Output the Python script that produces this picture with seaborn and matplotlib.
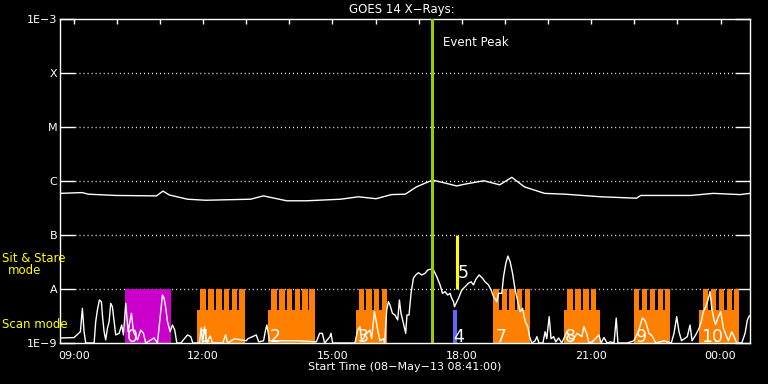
import matplotlib
matplotlib.use("Agg")
import matplotlib.pyplot as plt
from matplotlib.ticker import FixedLocator, FixedFormatter
import seaborn as sns
import pandas as pd

# ---------------- data (hours since 00:00 on 08-May-13; >24 = next day) ----------------
x_start = 8.683
x_end = 24.683

long_hours = [8.683, 9.195, 9.341, 9.968, 10.92, 11.07, 11.22, 11.64, 12.06, 13.10, 13.40,
              13.94, 14.40, 15.19, 15.60, 16.01, 16.37, 16.69, 16.95, 17.32, 17.58, 17.88,
              18.09, 18.51, 18.88, 19.16, 19.45, 19.92, 20.39, 21.23, 22.05, 22.15, 23.31,
              23.83, 24.45, 24.683]
long_flux = [5.9e-7, 6.1e-7, 5.7e-7, 5.4e-7, 5.3e-7, 6.5e-7, 5.5e-7, 4.6e-7, 4.4e-7, 4.6e-7, 5.3e-7,
             4.3e-7, 4.3e-7, 4.6e-7, 5.1e-7, 4.7e-7, 5.6e-7, 5.7e-7, 7.8e-7, 1.04e-6, 9.3e-7, 8.1e-7,
             8.8e-7, 1.01e-6, 8.5e-7, 1.17e-6, 7.8e-7, 5.9e-7, 5.7e-7, 5.1e-7, 4.8e-7, 5.4e-7, 5.4e-7,
             5.9e-7, 5.6e-7, 5.9e-7]

short_hours = [8.698, 9.009, 9.156, 9.202, 9.241, 9.279, 9.474, 9.511, 9.550, 9.597, 9.643, 9.673,
               9.706, 9.743, 9.782, 9.822, 9.859, 9.898, 9.938, 9.975, 10.054, 10.114, 10.154,
               10.207, 10.263, 10.339, 10.386, 10.479, 10.555, 10.618, 10.671, 10.866, 10.943,
               11.020, 11.059, 11.098, 11.136, 11.175, 11.238, 11.291, 11.344, 11.391, 11.484,
               11.639, 11.716, 11.762, 11.918, 11.957, 11.99, 12.034, 12.08, 12.166, 12.22,
               12.459, 12.521, 12.57, 12.730, 13.002, 13.039, 13.234, 13.29, 13.403, 13.45,
               13.480, 13.54, 13.814, 14.239, 14.627, 14.703, 14.766, 14.82, 14.942, 14.966,
               15.005, 15.523, 15.585, 15.639, 15.678, 15.794, 15.871, 15.91, 15.973, 16.003,
               16.050, 16.103, 16.182, 16.21, 16.259, 16.298, 16.335, 16.391, 16.451, 16.514,
               16.553, 16.590, 16.646, 16.699, 16.729, 16.776, 16.823, 16.878, 16.932, 16.994,
               17.071, 17.148, 17.210, 17.264, 17.343, 17.419, 17.496, 17.552, 17.612, 17.675,
               17.728, 17.767, 17.807, 17.830, 17.923, 17.999, 18.076, 18.155, 18.216, 18.271,
               18.325, 18.401, 18.480, 18.540, 18.619, 18.680, 18.736, 18.812, 18.851, 18.928,
               18.968, 19.021, 19.068, 19.121, 19.177, 19.237, 19.300, 19.353, 19.409, 19.469,
               19.532, 19.571, 19.624, 19.701, 19.741, 19.79, 19.88, 19.933, 19.97, 20.026,
               20.07, 20.128, 20.18, 20.244, 20.32, 20.437, 20.51, 20.592, 20.669, 20.785,
               20.83, 20.894, 20.95, 21.025, 21.180, 21.23, 21.296, 21.37, 21.451, 21.53,
               21.581, 21.62, 21.835, 21.992, 22.108, 22.185, 22.240, 22.287, 22.340, 22.417,
               22.496, 22.689, 22.858, 22.921, 22.983, 23.037, 23.095, 23.229, 23.292, 23.34,
               23.424, 23.501, 23.554, 23.601, 23.657, 23.710, 23.756, 23.796, 23.849, 23.884,
               23.949, 24.004, 24.065, 24.128, 24.181, 24.260, 24.313, 24.376, 24.492, 24.569,
               24.622, 24.668]
short_flux = [1.24e-9, 1.26e-9, 1.62e-9, 4.39e-9, 1.62e-9, 1.0e-9, 1.0e-9, 2.48e-9, 4.08e-9, 6.26e-9,
              5.8e-9, 2.87e-9, 1.62e-9, 1.14e-9, 1.87e-9, 2.48e-9, 5.43e-9, 4.7e-9, 2.48e-9, 1.41e-9,
              1.51e-9, 2.15e-9, 1.41e-9, 5.43e-9, 1.62e-9, 3.55e-9, 1.62e-9, 1.14e-9, 1.74e-9,
              1.51e-9, 1.0e-9, 1.24e-9, 1.0e-9, 3.8e-9, 7.74e-9, 6.73e-9, 4.39e-9, 2.48e-9,
              1.62e-9, 2.15e-9, 1.74e-9, 1.0e-9, 1.0e-9, 1.41e-9, 1.31e-9, 1.0e-9, 1.0e-9, 1.9e-9,
              1.0e-9, 2.0e-9, 1.0e-9, 1.35e-9, 1.0e-9, 1.0e-9, 1.41e-9, 1.0e-9, 1.2e-9, 1.1e-9,
              1.2e-9, 1.41e-9, 1.05e-9, 1.1e-9, 1.74e-9, 2.15e-9, 1.1e-9, 1.1e-9, 1.1e-9, 1.05e-9,
              1.51e-9, 1.51e-9, 1.0e-9, 1.31e-9, 1.51e-9, 1.0e-9, 1.0e-9, 1.74e-9, 2.0e-9, 1.1e-9,
              1.51e-9, 1.74e-9, 1.2e-9, 3.8e-9, 2.87e-9, 1.74e-9, 1.1e-9, 1.2e-9, 1.0e-9, 4.08e-9,
              5.82e-9, 5.06e-9, 3.55e-9, 3.3e-9, 2.67e-9, 6.26e-9, 3.55e-9, 2.32e-9, 1.51e-9,
              3.3e-9, 3.3e-9, 8.32e-9, 1.58e-8, 1.82e-8, 2.0e-8, 1.82e-8, 1.95e-8, 2.25e-8,
              2.32e-8, 2.25e-8, 1.69e-8, 1.19e-8, 8.32e-9, 8.91e-9, 7.74e-9, 8.32e-9, 6.73e-9,
              5.82e-9, 4.7e-9, 6.73e-9, 9.58e-9, 1.10e-8, 1.28e-8, 1.36e-8, 1.19e-8, 1.51e-8,
              1.82e-8, 1.58e-8, 1.36e-8, 1.19e-8, 9.58e-9, 7.2e-9, 5.82e-9, 8.32e-9, 8.32e-9,
              1.69e-8, 2.99e-8, 4.08e-8, 3.2e-8, 1.95e-8, 9.58e-9, 5.82e-9, 3.8e-9, 4.39e-9,
              2.48e-9, 2.0e-9, 1.31e-9, 1.0e-9, 1.1e-9, 1.31e-9, 1.0e-9, 1.0e-9, 1.62e-9, 1.2e-9,
              3.07e-9, 1.2e-9, 1.31e-9, 1.05e-9, 1.24e-9, 1.0e-9, 1.62e-9, 1.2e-9, 1.2e-9, 1.51e-9,
              1.31e-9, 2.0e-9, 1.51e-9, 1.0e-9, 1.05e-9, 1.41e-9, 1.0e-9, 1.26e-9, 1.0e-9, 1.05e-9,
              1.0e-9, 2.9e-9, 1.0e-9, 1.0e-9, 1.1e-9, 1.74e-9, 2.9e-9, 2.67e-9, 2.15e-9, 1.51e-9,
              1.35e-9, 1.0e-9, 1.1e-9, 1.0e-9, 1.51e-9, 3.07e-9, 1.62e-9, 1.1e-9, 1.31e-9, 2.15e-9,
              1.1e-9, 1.41e-9, 1.87e-9, 2.48e-9, 3.8e-9, 4.7e-9, 6.26e-9, 9.0e-9, 4.39e-9, 2.67e-9,
              2.2e-9, 3.07e-9, 3.8e-9, 1.87e-9, 1.41e-9, 1.1e-9, 1.62e-9, 1.31e-9, 1.0e-9, 1.0e-9,
              1.51e-9, 2.67e-9, 3.2e-9]

# observation blocks
sitstare_start = [10.200]
sitstare_end = [11.268]
sitstare_labels = ["0"]

scan_start = [11.871, 13.496, 15.539, 18.735, 20.360, 21.992, 23.501]
scan_end = [12.962, 14.587, 16.275, 19.585, 21.203, 22.828, 24.437]
scan_labels = ["1", "2", "3", "7", "8", "9", "10"]
scan_teeth = [
    [11.935, 12.120, 12.305, 12.490, 12.670, 12.845],
    [13.582, 13.768, 13.947, 14.123, 14.302, 14.465],
    [15.618, 15.787, 15.966, 16.152],
    [18.735, 18.921, 19.100, 19.281, 19.462],
    [20.446, 20.632, 20.818, 20.994],
    [21.992, 22.178, 22.357, 22.542, 22.705],
    [23.594, 23.772, 23.958, 24.144, 24.314],
]
tooth_width = 0.123
scan_base_top = 4.08e-9
block_top = 1.0e-8

raster_start = [17.790]
raster_end = [17.883]
raster_labels = ["4"]

stare_line_hour = [17.88]
stare_line_labels = ["5"]
peak_hour = 17.303

ytick_vals = [1e-9, 1e-8, 1e-7, 1e-6, 1e-5, 1e-4, 1e-3]
ytick_labels = ["1E\u22129", "A", "B", "C", "M", "X", "1E\u22123"]
xtick_vals = [9, 12, 15, 18, 21, 24]
xtick_labels = ["09:00", "12:00", "15:00", "18:00", "21:00", "00:00"]
xminor_vals = [h for h in range(9, 25)]

# ---------------- styling ----------------
sns.set_theme(style="white", rc={
    "axes.facecolor": "black", "figure.facecolor": "black",
    "axes.edgecolor": "white", "text.color": "white",
    "xtick.color": "white", "ytick.color": "white",
    "axes.linewidth": 1.0,
})
plt.rcParams["font.family"] = ["DejaVu Sans"]

W, H = 768, 384
fig = plt.figure(figsize=(W / 100, H / 100), dpi=100)
L, R, T, B = 60, 750, 19, 343
ax = fig.add_axes([L / W, 1 - B / H, (R - L) / W, (B - T) / H])
ax.set_yscale("log")
ax.set_xlim(x_start, x_end)
ax.set_ylim(1e-9, 1e-3)

ORANGE = "#ff8000"
MAGENTA = "#cc00cc"
BLUE = "#6464ff"
YELLOW = "#ffff00"
GREEN = "#99cc00"

# dotted class lines
for yv in ytick_vals[1:-1]:
    ax.axhline(yv, xmin=15 / (R - L), xmax=1 - 14 / (R - L), color="white",
               lw=1.0, ls=(0, (0.7, 2.2)), zorder=1)

# blocks
ax.bar(sitstare_start, [block_top - 1e-9] * len(sitstare_start), bottom=1e-9,
       width=[e - s for s, e in zip(sitstare_start, sitstare_end)], align="edge",
       color=MAGENTA, linewidth=0, zorder=2)
ax.bar(scan_start, [scan_base_top - 1e-9] * len(scan_start), bottom=1e-9,
       width=[e - s for s, e in zip(scan_start, scan_end)], align="edge",
       color=ORANGE, linewidth=0, zorder=2)
for teeth in scan_teeth:
    ax.bar(teeth, [block_top - scan_base_top * 0.999] * len(teeth), bottom=scan_base_top * 0.999,
           width=tooth_width, align="edge", color=ORANGE, linewidth=0, zorder=2)
ax.bar(raster_start, [scan_base_top - 1e-9] * len(raster_start), bottom=1e-9,
       width=[e - s for s, e in zip(raster_start, raster_end)], align="edge",
       color=BLUE, linewidth=0, zorder=2)
ax.vlines(stare_line_hour, 1e-8, 1e-7, color=YELLOW, lw=2.2, zorder=3)

# curves
df_long = pd.DataFrame({"hour": long_hours, "flux": long_flux})
df_short = pd.DataFrame({"hour": short_hours, "flux": short_flux})
sns.lineplot(data=df_long, x="hour", y="flux", ax=ax, color="white", lw=1.0,
             estimator=None, sort=False, zorder=4)
sns.lineplot(data=df_short, x="hour", y="flux", ax=ax, color="white", lw=1.0,
             estimator=None, sort=False, zorder=4)

# event peak
ax.axvline(peak_hour, color=GREEN, lw=2.2, zorder=5)
ax.text(peak_hour + 0.26, 3.6e-4, "Event Peak", color="white", fontsize=8.5,
        va="center", ha="left", zorder=6)

# block labels
lab_y = 1.04e-9
lab_fs = 12.5
for s, lab in zip(sitstare_start, sitstare_labels):
    ax.text(s + 0.04, lab_y, lab, color="white", fontsize=lab_fs, va="baseline", ha="left", zorder=6)
for s, lab in zip(scan_start, scan_labels):
    ax.text(s + 0.04, lab_y, lab, color="white", fontsize=lab_fs, va="baseline", ha="left", zorder=6)
for s, lab in zip(raster_start, raster_labels):
    ax.text(s + 0.02, lab_y, lab, color="white", fontsize=lab_fs, va="baseline", ha="left", zorder=6)
for s, lab in zip(stare_line_hour, stare_line_labels):
    ax.text(s + 0.03, 1.6e-8, lab, color="white", fontsize=lab_fs, va="baseline", ha="left", zorder=6)

# axes ticks
ax.yaxis.set_major_locator(FixedLocator(ytick_vals))
ax.yaxis.set_major_formatter(FixedFormatter(ytick_labels))
ax.yaxis.set_minor_locator(FixedLocator([]))
ax.tick_params(axis="y", which="major", direction="in", length=10.5, width=1.0,
               left=True, right=True, labelleft=True, labelsize=8, pad=2, colors="white")
ax.xaxis.set_major_locator(FixedLocator(xtick_vals))
ax.xaxis.set_major_formatter(FixedFormatter(xtick_labels))
ax.xaxis.set_minor_locator(FixedLocator(xminor_vals))
ax.tick_params(axis="x", which="both", direction="in", length=3.8, width=1.0,
               top=True, bottom=False, labelbottom=True, labelsize=8, pad=6, colors="white")
ax.set_xlabel("")
ax.set_ylabel("")
for sp in ax.spines.values():
    sp.set_color("white")
    sp.set_visible(True)

# figure texts
fig.text(402 / W, 1 - 9.5 / H, "GOES 14 X\u2212Rays:", color="white", fontsize=8.5,
         ha="center", va="center")
fig.text(405 / W, 1 - 367 / H, "Start Time (08\u2212May\u221213 08:41:00)", color="white",
         fontsize=8, ha="center", va="center")
fig.text(2 / W, 1 - 259 / H, "Sit & Stare", color=YELLOW, fontsize=8.5, ha="left", va="center")
fig.text(24.5 / W, 1 - 271 / H, "mode", color=YELLOW, fontsize=8.5, ha="center", va="center")
fig.text(2 / W, 1 - 324 / H, "Scan mode", color=YELLOW, fontsize=8.5, ha="left", va="center")

fig.savefig("out.png", dpi=100, facecolor="black")
